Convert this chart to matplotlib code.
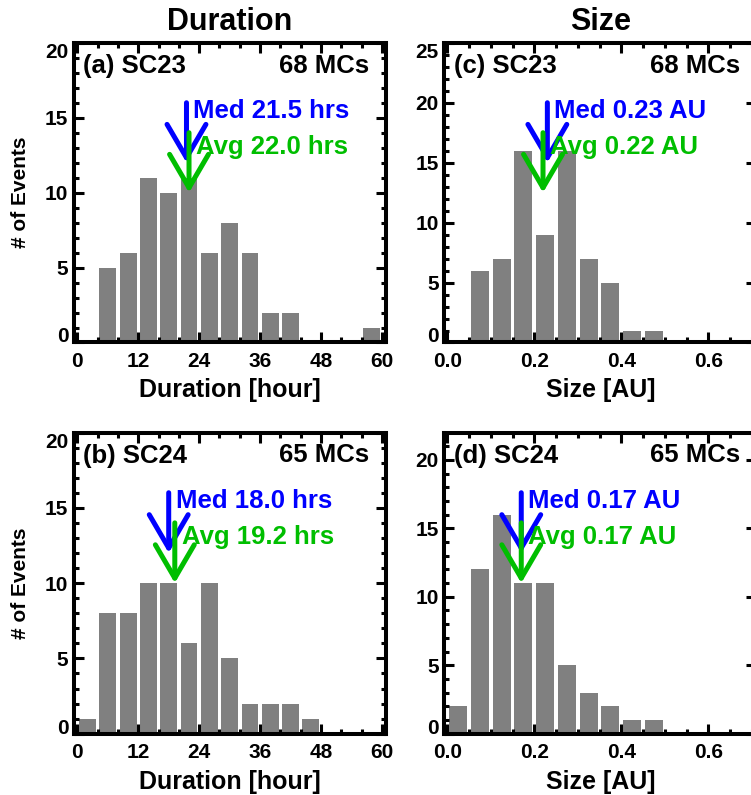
import numpy as np
import matplotlib
matplotlib.use('Agg')
import matplotlib.pyplot as plt
from matplotlib.ticker import MultipleLocator

plt.rcParams['font.family'] = ['Liberation Sans', 'DejaVu Sans']
plt.rcParams['font.weight'] = 'bold'
plt.rcParams['axes.labelweight'] = 'bold'

# ---- data ----
# duration: 4-hour bins, left edges
dur_left = [0, 4, 8, 12, 16, 20, 24, 28, 32, 36, 40, 44, 48, 52, 56]
dur_sc23 = [0, 5, 6, 11, 10, 11, 6, 8, 6, 2, 2, 0, 0, 0, 1]
dur_sc24 = [1, 8, 8, 10, 10, 6, 10, 5, 2, 2, 2, 1, 0, 0, 0]
dur_med = [21.5, 18.0]
dur_avg = [22.0, 19.2]

# size: 0.05 AU bins, left edges
size_left = [0.00, 0.05, 0.10, 0.15, 0.20, 0.25, 0.30, 0.35, 0.40, 0.45]
size_sc23 = [0, 6, 7, 16, 9, 16, 7, 5, 1, 1]
size_sc24 = [2, 12, 16, 11, 11, 5, 3, 2, 1, 1]
size_med = [0.23, 0.17]
size_avg = [0.22, 0.17]

panel_tags = ['(a) SC23', '(b) SC24', '(c) SC23', '(d) SC24']
n_events = ['68 MCs', '65 MCs']

BLUE = '#0000FF'
GREEN = '#00BE00'
GRAY = '#808080'

W, H = 751, 795
fig = plt.figure(figsize=(W / 100, H / 100), dpi=100)


def px_axes(left, top, width, height):
    return fig.add_axes([left / W, (H - top - height) / H, width / W, height / H])


def style_axes(ax, xmaj, xmin, ymaj):
    for sp in ax.spines.values():
        sp.set_linewidth(2.9)
    ax.xaxis.set_major_locator(MultipleLocator(xmaj))
    ax.xaxis.set_minor_locator(MultipleLocator(xmin))
    ax.yaxis.set_major_locator(MultipleLocator(ymaj))
    ax.yaxis.set_minor_locator(MultipleLocator(1))
    ax.tick_params(which='both', direction='in', top=True, right=True, width=2.2)
    ax.tick_params(which='major', length=7, labelsize=15)
    ax.tick_params(which='minor', length=3.5)
    ax.tick_params(axis='x', pad=7)
    ax.tick_params(axis='y', pad=4)


def fix_ylabels(ax, ymax, step):
    ticks = list(np.arange(0, ymax + 0.01, step))
    ax.set_yticks(ticks)
    ax.set_yticklabels([str(int(t)) for t in ticks])
    labs = ax.get_yticklabels()
    labs[0].set_va('baseline')
    if abs(ticks[-1] - ax.get_ylim()[1]) < 1e-6:
        labs[-1].set_va('top')


def arrows(ax, med, avg, med_txt, avg_txt):
    for x, y0, y1, c in [(med, 0.8, 0.6, BLUE), (avg, 0.7, 0.5, GREEN)]:
        ax.annotate('', xy=(x, y1), xytext=(x, y0),
                    xycoords=('data', 'axes fraction'),
                    textcoords=('data', 'axes fraction'),
                    arrowprops=dict(arrowstyle='->,head_length=24,head_width=14',
                                    mutation_scale=1, lw=3.6, color=c,
                                    shrinkA=0, shrinkB=0))
    ax.annotate(med_txt, xy=(med, 0.75), xycoords=('data', 'axes fraction'),
                xytext=(5, 0), textcoords='offset points', color=BLUE,
                fontsize=18.5, va='baseline', ha='left')
    ax.annotate(avg_txt, xy=(avg, 0.63), xycoords=('data', 'axes fraction'),
                xytext=(5, 0), textcoords='offset points', color=GREEN,
                fontsize=18.5, va='baseline', ha='left')


def headers(ax, tag, count):
    ax.annotate(tag, xy=(0, 1), xycoords='axes fraction', xytext=(6.7, -21.6),
                textcoords='offset points', fontsize=18.5, ha='left', va='baseline')
    ax.annotate(count, xy=(1, 1), xycoords='axes fraction', xytext=(-12, -21.6),
                textcoords='offset points', fontsize=18.5, ha='right', va='baseline')


rows = [(42.8, 299.7), (432.5, 301.2)]
dur_sets = [dur_sc23, dur_sc24]
size_sets = [size_sc23, size_sc24]
size_ymax = [25, 22]

for r, (top, hgt) in enumerate(rows):
    # ---- duration panel ----
    ax = px_axes(74, top, 312, hgt)
    centers = np.array(dur_left) + 2
    ax.bar(centers, dur_sets[r], width=4 * 0.83, color=GRAY, zorder=1)
    ax.set_xlim(-0.65, 60.79)
    ax.set_ylim(0, 20)
    style_axes(ax, 12, 4, 5)
    fix_ylabels(ax, 20, 5)
    ax.set_xticks([0, 12, 24, 36, 48, 60])
    ax.set_xlabel('Duration [hour]', fontsize=18, va='baseline')
    ax.xaxis.set_label_coords(0.5, -0.183)
    ax.set_ylabel('# of Events', fontsize=15, va='center')
    ax.yaxis.set_label_coords(-0.173, 0.5)
    headers(ax, panel_tags[r], n_events[r])
    arrows(ax, dur_med[r], dur_avg[r],
           'Med %.1f hrs' % dur_med[r], 'Avg %.1f hrs' % dur_avg[r])

    # ---- size panel ----
    ax = px_axes(444.3, top, 312, hgt)
    centers = np.array(size_left) + 0.025
    ax.bar(centers, size_sets[r], width=0.05 * 0.83, color=GRAY, zorder=1)
    ax.set_xlim(-0.0069, 0.7103)
    ax.set_ylim(0, size_ymax[r])
    style_axes(ax, 0.2, 0.05, 5)
    fix_ylabels(ax, size_ymax[r], 5)
    ax.set_xticks([0.0, 0.2, 0.4, 0.6])
    ax.set_xticklabels(['0.0', '0.2', '0.4', '0.6'])
    ax.set_xlabel('Size [AU]', fontsize=18, va='baseline')
    ax.xaxis.set_label_coords(0.5, -0.183)
    headers(ax, panel_tags[2 + r], n_events[r])
    arrows(ax, size_med[r], size_avg[r],
           'Med %.2f AU' % size_med[r], 'Avg %.2f AU' % size_avg[r])

fig.text(230 / W, (H - 30) / H, 'Duration', ha='center', va='baseline', fontsize=22)
fig.text(600.3 / W, (H - 30) / H, 'Size', ha='center', va='baseline', fontsize=22)

fig.savefig('out.png', dpi=100)
